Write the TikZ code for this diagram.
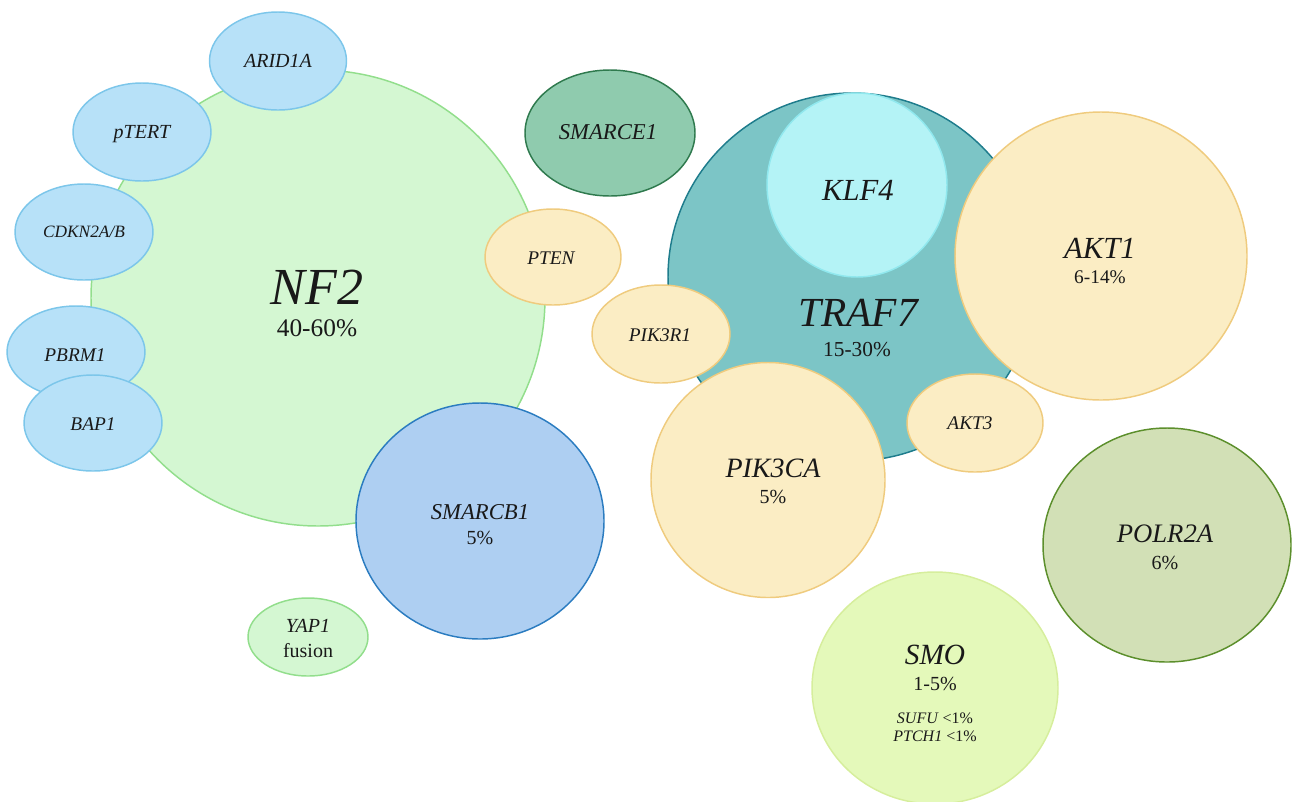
\documentclass[tikz,border=0pt]{standalone}
\usepackage{fontspec}
\setmainfont{Liberation Serif}
\usetikzlibrary{shapes.geometric}
\definecolor{nfF}{HTML}{D4F7D2}\definecolor{nfD}{HTML}{92DE8C}
\definecolor{blF}{HTML}{B7E1F8}\definecolor{blD}{HTML}{7CC6EA}
\definecolor{sbF}{HTML}{AECFF2}\definecolor{sbD}{HTML}{2B7CC0}
\definecolor{seF}{HTML}{8FCBAE}\definecolor{seD}{HTML}{2F7A4E}
\definecolor{crF}{HTML}{FBEDC4}\definecolor{crD}{HTML}{EFCB7E}
\definecolor{trF}{HTML}{7CC5C6}\definecolor{trD}{HTML}{1E7C8C}
\definecolor{klF}{HTML}{B4F3F6}\definecolor{klD}{HTML}{90E8EE}
\definecolor{poF}{HTML}{D2E0B6}\definecolor{poD}{HTML}{5C8F2C}
\definecolor{smF}{HTML}{E4F9BA}\definecolor{smD}{HTML}{D6EE9C}
\tikzset{
  blob/.style 2 args={ellipse, inner sep=0pt, minimum width=#1*0.75pt, minimum height=#2*0.75pt, line width=1.1pt},
  nfblob/.style={fill=nfF, draw=nfD},
  blblob/.style={fill=blF, draw=blD},
  crblob/.style={fill=crF, draw=crD},
  gene/.style={font=\fontsize{#1}{#1}\selectfont\itshape, inner sep=0pt, text=black!90},
  pct/.style={font=\fontsize{#1}{#1}\selectfont, inner sep=0pt, text=black!90},
}
\begin{document}
\begin{tikzpicture}[x=0.75pt,y=-0.75pt]
\useasboundingbox (0,0) rectangle (1292,801);
% NF2 group
\node[blob={454}{456}, nfblob] (nf2) at (318,298) {};
\node[blob={137}{98}, blblob] (arid) at (278,61) {};
\node[blob={138}{98}, blblob] (ptert) at (142,132) {};
\node[blob={138}{96}, blblob] (cdkn) at (84,232) {};
\node[blob={138}{92}, blblob] (pbrm) at (76,352) {};
\node[blob={138}{96}, blblob] (bap) at (93,423) {};
\node[blob={248}{236}, fill=sbF, draw=sbD] (smarcb) at (480,521) {};
\node[blob={120}{78}, nfblob] (yap) at (308,637) {};
\node[blob={170}{126}, fill=seF, draw=seD] (smarce) at (610,133) {};
% TRAF7 group
\node[blob={368}{368}, fill=trF, draw=trD] (traf) at (852,277) {};
\node[blob={180}{184}, fill=klF, draw=klD] (klf) at (857,185) {};
\node[blob={136}{96}, crblob] (pten) at (553,257) {};
\node[blob={138}{98}, crblob] (pik3r1) at (661,334) {};
\node[blob={292}{288}, crblob] (akt1) at (1101,256) {};
\node[blob={234}{235}, crblob] (pik3ca) at (768,480) {};
\node[blob={136}{98}, crblob] (akt3) at (975,423) {};
\node[blob={248}{234}, fill=poF, draw=poD] (polr) at (1167,545) {};
\node[blob={246}{232}, fill=smF, draw=smD] (smo) at (935,688) {};
% texts
\node[gene=39] (tnf2) at (317,287) {NF2};
\node[pct=19] (pnf2) at (317,328) {40-60\%};
\node[gene=15] (tarid) at (278,61) {ARID1A};
\node[gene=15] (tptert) at (142,134) {pTERT};
\node[gene=13] (tcdkn) at (84,232) {CDKN2A/B};
\node[gene=14.5] (tpbrm) at (75,355) {PBRM1};
\node[gene=14.5] (tbap) at (93,424) {BAP1};
\node[gene=17] (tsmarcb) at (480,512) {SMARCB1};
\node[pct=15] (psmarcb) at (480,538) {5\%};
\node[gene=15] (tyap) at (308,626) {YAP1};
\node[pct=15] (pyap) at (308,651) {fusion};
\node[gene=17] (tsmarce) at (608,132) {SMARCE1};
\node[gene=23] (tklf) at (858,190) {KLF4};
\node[gene=31] (ttraf) at (858,313) {TRAF7};
\node[pct=16] (ptraf) at (857,350) {15-30\%};
\node[gene=14.5] (tpten) at (551,258) {PTEN};
\node[gene=14.5] (tpik3r1) at (660,335) {PIK3R1};
\node[gene=23] (takt1) at (1100,248) {AKT1};
\node[pct=14.5] (pakt1) at (1100,277) {6-14\%};
\node[gene=14.5] (takt3) at (970,423) {AKT3};
\node[gene=21] (tpik3ca) at (773,468) {PIK3CA};
\node[pct=15] (ppik3ca) at (773,497) {5\%};
\node[gene=20] (tpolr) at (1165,534) {POLR2A};
\node[pct=15] (ppolr) at (1165,563) {6\%};
\node[gene=22] (tsmo) at (935,655) {SMO};
\node[pct=15] (psmo) at (935,684) {1-5\%};
\node[pct=12] (tsufu) at (935,718) {\textit{SUFU} <1\%};
\node[pct=12] (tptch) at (935,736) {\textit{PTCH1} <1\%};
\end{tikzpicture}
\end{document}
